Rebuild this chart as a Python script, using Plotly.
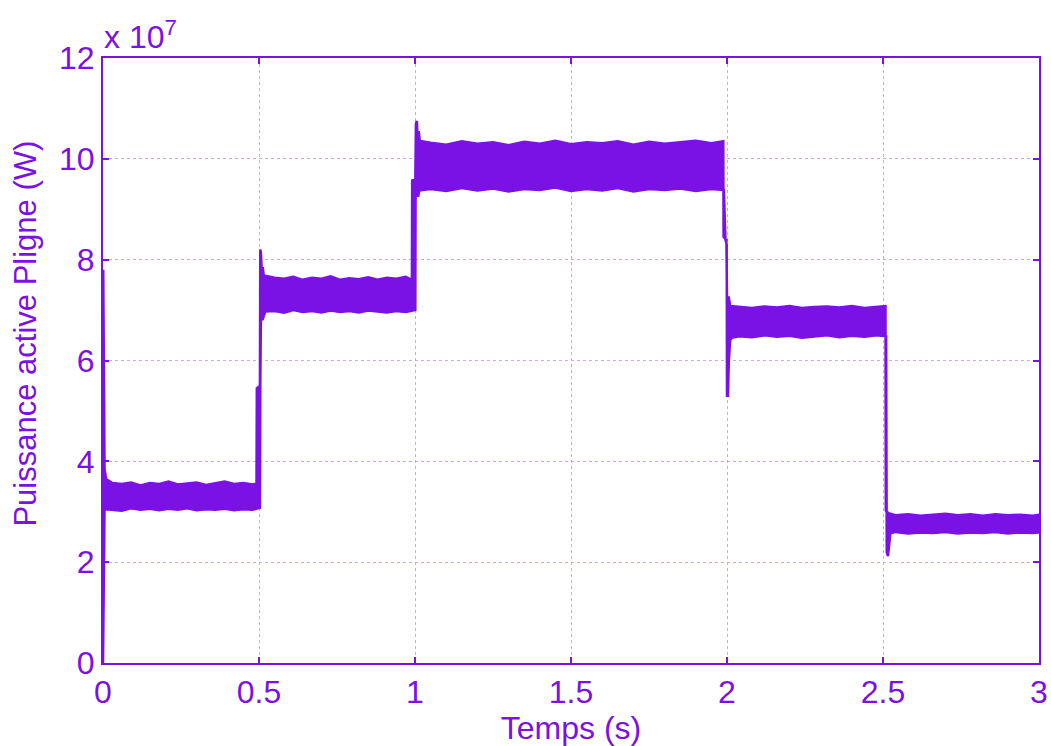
import plotly.graph_objects as go

# Active line power P_ligne, in units of 1e7 W, given as the upper and lower
# envelope of the oscillating signal (time in seconds).
t_upper = [0.0, 0.0008, 0.0018, 0.0028, 0.005, 0.01,
           0.03, 0.06, 0.09, 0.12, 0.15, 0.18, 0.21, 0.24, 0.27, 0.30, 0.33,
           0.36, 0.39, 0.42, 0.45, 0.48, 0.492,
           0.493, 0.503, 0.504, 0.506, 0.509, 0.512, 0.515, 0.52,
           0.55, 0.58, 0.61, 0.64, 0.67, 0.70, 0.73, 0.76, 0.79, 0.82, 0.85,
           0.88, 0.91, 0.94, 0.97, 0.99,
           0.991, 1.001, 1.003, 1.006, 1.009, 1.012, 1.016, 1.02,
           1.05, 1.10, 1.15, 1.20, 1.25, 1.30, 1.35, 1.40, 1.45, 1.50, 1.55,
           1.60, 1.65, 1.70, 1.75, 1.80, 1.85, 1.90, 1.95, 1.988,
           1.989, 1.998, 2.0, 2.006, 2.01,
           2.04, 2.08, 2.12, 2.16, 2.20, 2.24, 2.28, 2.32, 2.36, 2.40, 2.44,
           2.48, 2.508,
           2.509, 2.518, 2.54, 2.58, 2.62, 2.66, 2.70, 2.74, 2.78, 2.82, 2.86,
           2.90, 2.94, 2.98, 3.0]
p_upper = [0.0, 7.8, 3.7, 5.9, 3.85, 3.65,
           3.57, 3.55, 3.58, 3.52, 3.57, 3.55, 3.60, 3.54, 3.56, 3.58, 3.53,
           3.56, 3.60, 3.55, 3.57, 3.54, 3.56,
           5.45, 5.5, 8.2, 8.15, 7.75, 7.85, 7.7, 7.68,
           7.64, 7.62, 7.66, 7.60, 7.64, 7.62, 7.67, 7.60, 7.63, 7.61, 7.65,
           7.60, 7.64, 7.62, 7.66, 7.60,
           9.57, 9.6, 10.7, 10.75, 10.3, 10.55, 10.3, 10.35,
           10.32, 10.28, 10.35, 10.30, 10.33, 10.27, 10.34, 10.30, 10.36,
           10.29, 10.33, 10.31, 10.35, 10.28, 10.34, 10.30, 10.33, 10.36,
           10.31, 10.35,
           8.45, 8.4, 7.25, 7.25, 7.08,
           7.06, 7.04, 7.07, 7.05, 7.08, 7.04, 7.06, 7.07, 7.05, 7.08, 7.04,
           7.07, 7.08,
           3.02, 2.97, 2.93, 2.95, 2.92, 2.94, 2.96, 2.93, 2.95, 2.92, 2.95,
           2.93, 2.94, 2.92, 2.94]

t_lower = [0.0, 0.005, 0.01,
           0.03, 0.06, 0.09, 0.12, 0.15, 0.18, 0.21, 0.24, 0.27, 0.30, 0.33,
           0.36, 0.39, 0.42, 0.45, 0.48, 0.503,
           0.504, 0.506, 0.508, 0.511, 0.52,
           0.55, 0.58, 0.61, 0.64, 0.67, 0.70, 0.73, 0.76, 0.79, 0.82, 0.85,
           0.88, 0.91, 0.94, 0.97, 1.001,
           1.002, 1.006, 1.01, 1.015, 1.02,
           1.05, 1.10, 1.15, 1.20, 1.25, 1.30, 1.35, 1.40, 1.45, 1.50, 1.55,
           1.60, 1.65, 1.70, 1.75, 1.80, 1.85, 1.90, 1.95, 1.99,
           1.995, 1.999, 2.0, 2.003, 2.006, 2.01, 2.015,
           2.04, 2.08, 2.12, 2.16, 2.20, 2.24, 2.28, 2.32, 2.36, 2.40, 2.44,
           2.48, 2.51,
           2.512, 2.516, 2.52, 2.524, 2.53,
           2.54, 2.58, 2.62, 2.66, 2.70, 2.74, 2.78, 2.82, 2.86, 2.90, 2.94,
           2.98, 3.0]
p_lower = [0.0, 3.1, 3.05,
           3.04, 3.02, 3.07, 3.04, 3.06, 3.03, 3.06, 3.04, 3.07, 3.03, 3.05,
           3.04, 3.06, 3.03, 3.05, 3.04, 3.08,
           5.4, 6.75, 6.9, 6.8, 6.97,
           6.98, 6.95, 7.0, 6.96, 6.98, 6.95, 6.99, 6.96, 6.98, 6.95, 6.99,
           6.97, 6.95, 6.98, 6.96, 7.0,
           9.55, 9.3, 9.25, 9.4, 9.38,
           9.40, 9.36, 9.42, 9.37, 9.41, 9.35, 9.40, 9.38, 9.43, 9.36, 9.40,
           9.37, 9.42, 9.35, 9.40, 9.38, 9.41, 9.36, 9.40, 9.38,
           8.4, 8.3, 5.3, 5.3, 6.0, 6.4, 6.45,
           6.48, 6.46, 6.50, 6.47, 6.49, 6.45, 6.48, 6.50, 6.46, 6.49, 6.47,
           6.50, 6.48,
           2.2, 2.12, 2.3, 2.6, 2.58,
           2.60, 2.57, 2.59, 2.58, 2.60, 2.57, 2.59, 2.58, 2.60, 2.57, 2.59,
           2.58, 2.59]

x_ticks = [0, 0.5, 1, 1.5, 2, 2.5, 3]
x_ticklabels = ["0", "0.5", "1", "1.5", "2", "2.5", "3"]
y_ticks = [0, 2, 4, 6, 8, 10, 12]
y_ticklabels = ["0", "2", "4", "6", "8", "10", "12"]

PURPLE = "#7a12e6"
GRID = "#c9a6f3"
FONT = "Arial, Liberation Sans, sans-serif"

fig = go.Figure()

# Envelope polygon: upper edge forward in time, lower edge back
fig.add_trace(go.Scatter(
    x=t_upper + t_lower[::-1],
    y=p_upper + p_lower[::-1],
    mode="lines",
    fill="toself",
    fillcolor=PURPLE,
    line=dict(color=PURPLE, width=2.5),
    hoverinfo="skip",
    showlegend=False,
))

axis_common = dict(
    showline=True, linecolor=PURPLE, linewidth=2, mirror="ticks",
    ticks="inside", ticklen=6, tickwidth=1.5, tickcolor=PURPLE,
    showgrid=True, gridcolor=GRID, gridwidth=1, griddash="dot",
    zeroline=False, automargin=False,
    tickfont=dict(family=FONT, size=32, color=PURPLE),
)

fig.update_xaxes(
    range=[0, 3], tickvals=x_ticks, ticktext=x_ticklabels,
    title=dict(text="Temps (s)", font=dict(family=FONT, size=32, color=PURPLE),
               standoff=2),
    **axis_common,
)
fig.update_yaxes(
    range=[0, 12], tickvals=y_ticks, ticktext=y_ticklabels,
    **axis_common,
)

# Vertical axis label, placed as a rotated annotation
fig.add_annotation(
    xref="paper", yref="paper", x=-0.083, y=0.545,
    xanchor="center", yanchor="middle", textangle=-90,
    text="Puissance active Pligne (W)", showarrow=False,
    font=dict(family=FONT, size=31, color=PURPLE),
)

# Exponent of the vertical axis
fig.add_annotation(
    xref="paper", yref="paper", x=0, y=1, xanchor="left", yanchor="bottom",
    text="x 10<sup>7</sup>", showarrow=False, borderpad=0,
    font=dict(family=FONT, size=32, color=PURPLE), yshift=2,
)

fig.update_layout(
    width=1051, height=746,
    margin=dict(l=103, r=12, t=58, b=83),
    paper_bgcolor="white", plot_bgcolor="white",
)

fig.write_html("out.html")
